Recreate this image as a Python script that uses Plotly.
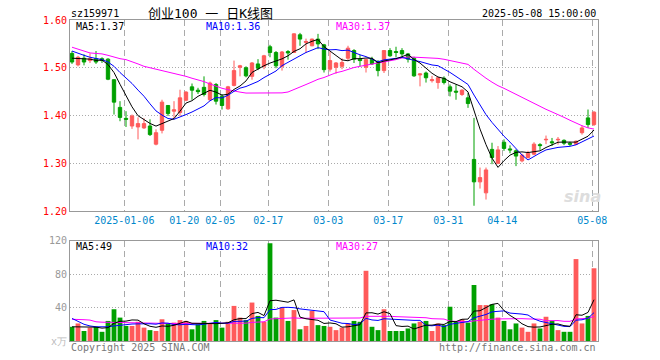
import plotly.graph_objects as go

# ---------------- data ----------------
tick_idx = [9, 19, 25, 33, 43, 53, 63, 72, 87]
tick_labels = ['2025-01-06', '01-20', '02-05', '02-17', '03-03', '03-17', '03-31', '04-14', '05-08']

opens = [1.530, 1.506, 1.520, 1.515, 1.519, 1.519, 1.518, 1.475, 1.417, 1.394,
         1.378, 1.376, 1.374, 1.378, 1.340, 1.369, 1.421, 1.409, 1.406, 1.432,
         1.460, 1.453, 1.459, 1.433, 1.465, 1.440, 1.414, 1.463, 1.501, 1.500,
         1.482, 1.508, 1.503, 1.544, 1.532, 1.503, 1.534, 1.532, 1.569, 1.553,
         1.546, 1.560, 1.548, 1.497, 1.501, 1.503, 1.520, 1.536, 1.518, 1.501,
         1.518, 1.513, 1.494, 1.536, 1.534, 1.536, 1.529, 1.520, 1.485, 1.489,
         1.473, 1.469, 1.478, 1.460, 1.451, 1.444, 1.437, 1.308, 1.261, 1.238,
         1.329, 1.300, 1.344, 1.330, 1.326, 1.305, 1.312, 1.319, 1.339, 1.349,
         1.345, 1.349, 1.348, 1.342, 1.340, 1.364, 1.395, 1.381]
highs = [1.535, 1.525, 1.528, 1.530, 1.535, 1.522, 1.520, 1.476, 1.430, 1.409,
         1.402, 1.396, 1.394, 1.392, 1.371, 1.433, 1.422, 1.430, 1.454, 1.451,
         1.467, 1.458, 1.482, 1.471, 1.468, 1.445, 1.462, 1.515, 1.506, 1.503,
         1.512, 1.518, 1.527, 1.548, 1.535, 1.535, 1.537, 1.572, 1.573, 1.561,
         1.561, 1.571, 1.550, 1.534, 1.512, 1.520, 1.546, 1.539, 1.527, 1.519,
         1.523, 1.516, 1.537, 1.541, 1.544, 1.541, 1.531, 1.523, 1.488, 1.492,
         1.483, 1.481, 1.482, 1.465, 1.465, 1.455, 1.447, 1.395, 1.291, 1.291,
         1.343, 1.336, 1.350, 1.3375, 1.329, 1.320, 1.326, 1.344, 1.342, 1.358,
         1.353, 1.355, 1.350, 1.345, 1.348, 1.379, 1.4125, 1.409]
lows = [1.508, 1.503, 1.505, 1.510, 1.508, 1.510, 1.474, 1.402, 1.388, 1.376,
        1.372, 1.350, 1.372, 1.357, 1.3375, 1.3625, 1.399, 1.392, 1.399, 1.430,
        1.433, 1.445, 1.440, 1.430, 1.423, 1.4125, 1.412, 1.461, 1.482, 1.480,
        1.475, 1.495, 1.497, 1.522, 1.499, 1.494, 1.517, 1.531, 1.546, 1.531,
        1.545, 1.539, 1.490, 1.492, 1.4875, 1.497, 1.515, 1.510, 1.503, 1.490,
        1.506, 1.482, 1.489, 1.523, 1.522, 1.524, 1.511, 1.481, 1.461, 1.469,
        1.469, 1.456, 1.465, 1.440, 1.433, 1.441, 1.416, 1.211, 1.247, 1.224,
        1.298, 1.298, 1.326, 1.321, 1.294, 1.302, 1.310, 1.317, 1.328, 1.340,
        1.336, 1.339, 1.338, 1.336, 1.338, 1.360, 1.374, 1.378]
closes = [1.512, 1.522, 1.512, 1.519, 1.512, 1.515, 1.476, 1.428, 1.396, 1.392,
          1.399, 1.383, 1.383, 1.360, 1.364, 1.428, 1.404, 1.412, 1.437, 1.449,
          1.453, 1.450, 1.444, 1.468, 1.430, 1.421, 1.460, 1.494, 1.504, 1.483,
          1.510, 1.499, 1.525, 1.532, 1.504, 1.533, 1.531, 1.571, 1.560, 1.555,
          1.560, 1.550, 1.496, 1.515, 1.510, 1.511, 1.541, 1.518, 1.515, 1.517,
          1.508, 1.494, 1.536, 1.525, 1.532, 1.529, 1.518, 1.483, 1.487, 1.479,
          1.475, 1.479, 1.469, 1.451, 1.449, 1.453, 1.425, 1.261, 1.270, 1.286,
          1.312, 1.328, 1.331, 1.328, 1.315, 1.317, 1.321, 1.340, 1.337, 1.350,
          1.343, 1.350, 1.342, 1.340, 1.346, 1.374, 1.381, 1.407]
volumes = [17, 21, 12, 16, 17, 11, 24, 38, 28, 18,
           18, 23, 16, 13, 12, 26, 21, 22, 25, 24,
           14, 20, 24, 21, 25, 16, 23, 42, 28, 25,
           46, 30, 23, 117, 28, 40, 24, 37, 14, 18,
           36, 19, 18, 17, 13, 16, 21, 24, 23, 84,
           17, 13, 38, 12, 12, 12, 15, 21, 23, 24,
           12, 21, 19, 41, 23, 26, 22, 67, 43, 43,
           44, 28, 24, 14, 21, 16, 11, 21, 15, 29,
           24, 13, 11, 11, 98, 21, 30, 87]

# moving-average values at the start of the window (window reaches before the chart)
ma5_head = [1.520, 1.519, 1.518, 1.518]
ma10_head = [1.535, 1.530, 1.526, 1.522, 1.519, 1.517, 1.512, 1.503, 1.490]
ma30_head = [1.543, 1.539, 1.535, 1.531, 1.530, 1.529, 1.526, 1.522, 1.519, 1.517,
             1.513, 1.508, 1.503, 1.500, 1.497, 1.494, 1.492, 1.489, 1.486, 1.482,
             1.478, 1.475, 1.471, 1.466, 1.461, 1.457, 1.454, 1.451, 1.449]
vol_ma5_head = [17, 17, 17, 17]
vol_ma10_head = [27, 23, 20, 18, 17, 17, 17, 18, 19]
vol_ma30_head = [26, 26, 25.5, 25, 23, 22.5, 22.3, 22, 22, 22,
                 21.8, 21.5, 21.5, 21.3, 21.3, 21, 21, 21, 21, 21,
                 20.8, 20.5, 20.5, 20.5, 20.7, 21, 21, 21.2, 21.3]


def rolling(vals, w, head):
    out = list(head)
    for i in range(len(head), len(vals)):
        out.append(sum(vals[i - w + 1:i + 1]) / w)
    return out


n = len(closes)
idx = list(range(n))
ma5 = rolling(closes, 5, ma5_head)
ma10 = rolling(closes, 10, ma10_head)
ma30 = rolling(closes, 30, ma30_head)
vma5 = rolling(volumes, 5, vol_ma5_head)
vma10 = rolling(volumes, 10, vol_ma10_head)
vma30 = rolling(volumes, 30, vol_ma30_head)

RED = '#ff5a5a'
GREEN = '#00a000'
vol_colors = [RED if c >= o else GREEN for o, c in zip(opens, closes)]

MONO = 'DejaVu Sans Mono'

fig = go.Figure()
fig.add_trace(go.Candlestick(
    x=idx, open=opens, high=highs, low=lows, close=closes,
    increasing=dict(line=dict(color=RED, width=1), fillcolor=RED),
    decreasing=dict(line=dict(color=GREEN, width=1), fillcolor=GREEN),
    xaxis='x', yaxis='y', hoverinfo='skip'))
for vals, col in [(ma30, '#ff00ff'), (ma10, '#0000ff'), (ma5, '#000000')]:
    fig.add_trace(go.Scatter(x=idx, y=vals, mode='lines',
                             line=dict(color=col, width=1),
                             xaxis='x', yaxis='y', hoverinfo='skip'))

fig.add_trace(go.Bar(x=idx, y=volumes, marker=dict(color=vol_colors, line=dict(width=0)),
                     width=0.8, xaxis='x2', yaxis='y2', hoverinfo='skip'))
for vals, col in [(vma30, '#ff00ff'), (vma10, '#0000ff'), (vma5, '#000000')]:
    fig.add_trace(go.Scatter(x=idx, y=vals, mode='lines',
                             line=dict(color=col, width=1),
                             xaxis='x2', yaxis='y2', hoverinfo='skip'))

W, H = 660, 360
ML, MR, MT, MB = 70, 62, 20, 19
PW = W - ML - MR
PH = H - MT - MB


def px(x):
    return (x - ML) / PW


def py(y):
    return (H - MB - y) / PH


xr = [-1.0 / 3, n - 1 + 2.0 / 3]
tv = [t - 0.28 for t in tick_idx]
grid_x = dict(showgrid=True, gridcolor='#aaaaaa', griddash='6px,4px', gridwidth=1,
              tickvals=tv, zeroline=False, range=xr, showline=True, linecolor='#999999',
              linewidth=1, mirror=True, ticks='', fixedrange=True)

fig.update_layout(
    width=W, height=H,
    margin=dict(l=ML, r=MR, t=MT, b=MB),
    paper_bgcolor='white', plot_bgcolor='white',
    showlegend=False, boxgap=0.2,
    xaxis=dict(domain=[0, 1], anchor='y', ticktext=tick_labels,
               tickfont=dict(family=MONO, size=10, color='#0088cc'),
               rangeslider=dict(visible=False), **grid_x),
    xaxis2=dict(domain=[0, 1], anchor='y2', matches='x', showticklabels=False, **grid_x),
    yaxis=dict(domain=[py(211), 1], range=[1.2, 1.6],
               tickvals=[1.2, 1.3, 1.4, 1.5, 1.6],
               ticktext=['1.20', '1.30', '1.40', '1.50', '1.60'],
               tickfont=dict(family=MONO, size=10, color='#ff0000'),
               showgrid=True, gridcolor='#aaaaaa', griddash='1px,2px', zeroline=False,
               showline=True, linecolor='#999999', linewidth=1, mirror=True, ticks='',
               fixedrange=True),
    yaxis2=dict(domain=[0, py(240.7)], range=[0, 120],
                tickvals=[0, 40, 80, 120],
                ticktext=['<span style="color:#bbbbbb">x万</span>', '40', '80', '120'],
                tickfont=dict(family=MONO, size=10, color='#999999'),
                showgrid=True, gridcolor='#aaaaaa', griddash='1px,2px', zeroline=False,
                showline=True, linecolor='#999999', linewidth=1, mirror=True, ticks='',
                fixedrange=True),
)

ann = []


def label(x, y, text, color='#000000', anchor='left', size=10, family=MONO):
    ann.append(dict(x=px(x), y=py(y), xref='paper', yref='paper', text=text,
                    showarrow=False, xanchor=anchor, yanchor='middle',
                    font=dict(family=family, size=size, color=color)))


label(69, 13, 'sz159971')
label(210, 13, '创业100 一 日K线图', size=13, anchor='center',
      family='DejaVu Sans Mono, Noto Sans CJK SC')
label(598, 13, '2025-05-08 15:00:00', anchor='right')
label(74, 26, 'MA5:1.37')
label(204, 26, 'MA10:1.36', color='#0000ff')
label(334, 26, 'MA30:1.37', color='#ff00ff')
label(74, 246, 'MA5:49')
label(204, 246, 'MA10:32', color='#0000ff')
label(334, 246, 'MA30:27', color='#ff00ff')
label(69, 347, 'Copyright 2025 SINA.COM', color='#777777')
label(598, 347, 'http://finance.sina.com.cn', color='#777777', anchor='right')
label(582, 197, '<b><i>sina</i></b>', color='#dddddd', anchor='center', size=16,
      family='DejaVu Sans')
fig.update_layout(annotations=ann)

fig.write_html('out.html', config={'displayModeBar': False, 'staticPlot': True},
               post_script="document.body.style.margin='0';document.body.style.padding='0';")
